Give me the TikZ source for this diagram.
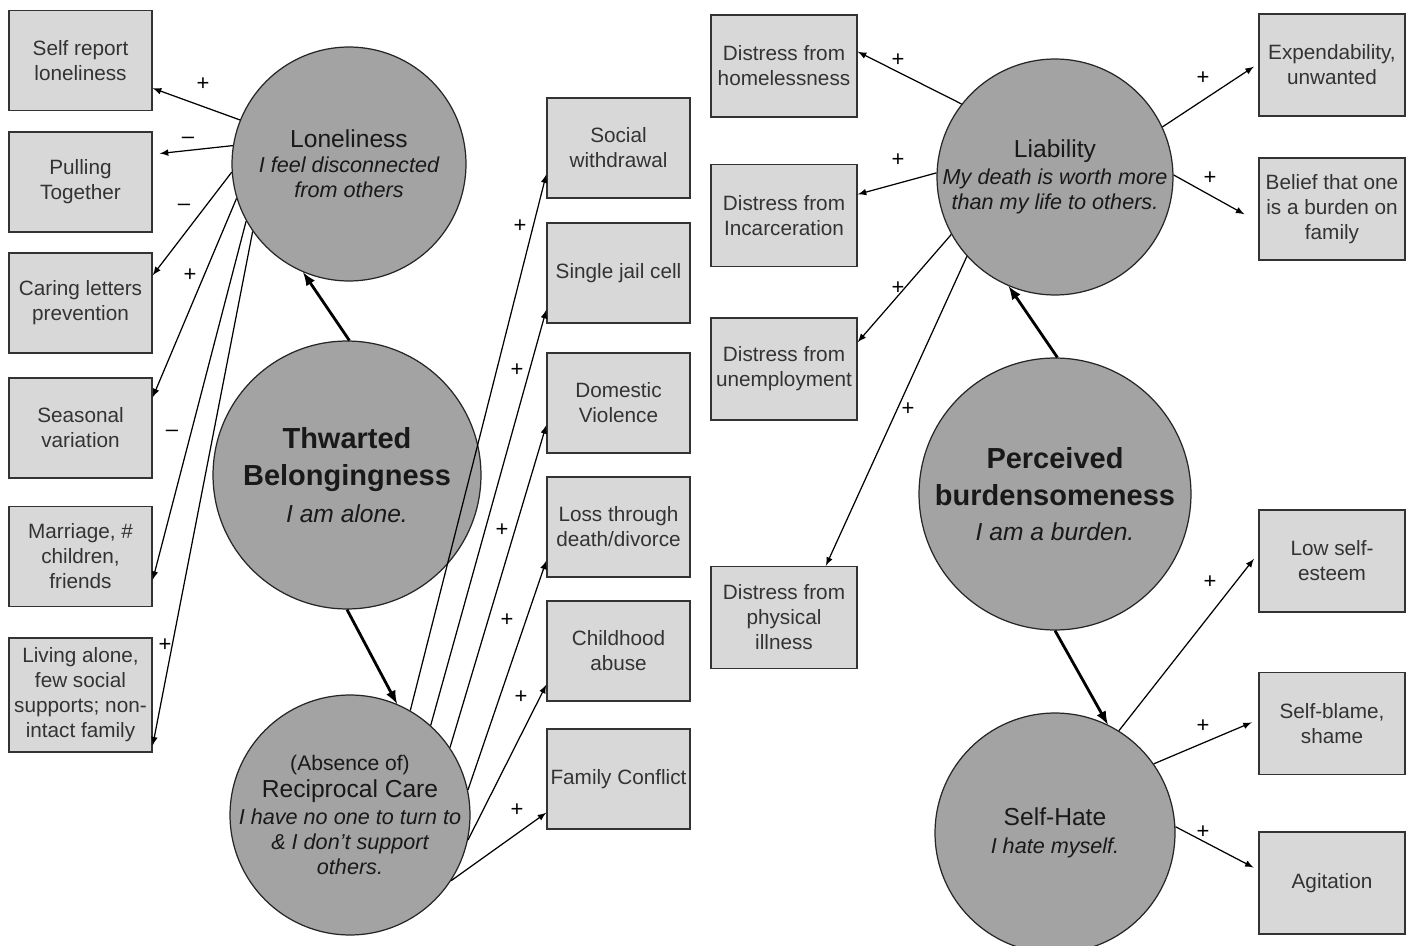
\documentclass[tikz,border=0pt]{standalone}
\usepackage{fontspec}
\setmainfont{Liberation Sans}
\definecolor{circlegray}{RGB}{163,163,163}
\definecolor{boxgray}{RGB}{216,216,216}
\newcommand{\factorfont}{\fontsize{11.8}{14.2}\selectfont}
\newcommand{\headfont}{\fontsize{14}{14.7}\selectfont\upshape}
\newcommand{\notefont}{\fontsize{12.3}{14.2}\selectfont\itshape}
\newcommand{\bigheadfont}{\fontsize{16.5}{21}\selectfont\bfseries}
\newcommand{\bignotefont}{\fontsize{14}{18.7}\selectfont\mdseries\itshape}

\begin{document}
\begin{tikzpicture}[x=0.02cm,y=-0.02cm]
\tikzstyle{factor}=[rectangle, draw=black!80, fill=boxgray, line width=0.8pt, minimum width=2.86cm, minimum height=2cm, inner sep=0.5pt, align=center, font=\factorfont, text=black!80];
\tikzstyle{distress}=[factor, minimum width=2.92cm, minimum height=2.04cm];
\tikzstyle{construct}=[circle, draw=black!85, fill=circlegray, line width=0.7pt, inner sep=-8pt, align=center, text=black!90, font=\notefont];
\tikzstyle{link}=[-latex, line width=0.7pt];
\tikzstyle{mainlink}=[-latex, line width=1.6pt];
\tikzstyle{sign}=[font=\fontsize{12.5}{12.5}\selectfont, inner sep=0pt];
\path [fill=white] (0,0) rectangle (1414,946);
\useasboundingbox (0,0) rectangle (1414,946);
\coordinate (c_loneliness) at (349,164);
\coordinate (c_thwarted) at (347,475);
\coordinate (c_reciprocal) at (350,815);
\coordinate (c_liability) at (1055,177);
\coordinate (c_perceived) at (1055,494);
\coordinate (c_self_hate) at (1055,833);
\coordinate (c_self_report) at (80.5,60.5);
\coordinate (c_pulling) at (80.5,182);
\coordinate (c_caring) at (80.5,303);
\coordinate (c_seasonal) at (80.5,428);
\coordinate (c_marriage) at (80.5,556.5);
\coordinate (c_living_alone) at (80.5,695);
\coordinate (c_withdrawal) at (618.5,148);
\coordinate (c_jail_cell) at (618.5,273);
\coordinate (c_domestic) at (618.5,403);
\coordinate (c_loss) at (618.5,527);
\coordinate (c_childhood) at (618.5,651);
\coordinate (c_conflict) at (618.5,779);
\coordinate (c_homeless) at (784,66);
\coordinate (c_incarceration) at (784,215.5);
\coordinate (c_unemployment) at (784,369);
\coordinate (c_illness) at (784,617.5);
\coordinate (c_expendability) at (1332,65);
\coordinate (c_burden_family) at (1332,209);
\coordinate (c_low_esteem) at (1332,561);
\coordinate (c_self_blame) at (1332,723.5);
\coordinate (c_agitation) at (1332,883);
\node (loneliness) at (c_loneliness) [construct, minimum size=4.68cm] {{\headfont Loneliness}\\I feel disconnected\\from others};
\node (thwarted) at (c_thwarted) [construct, minimum size=5.36cm, font=\bigheadfont] {Thwarted\\Belongingness\\{\bignotefont I am alone.}};
\node (reciprocal) at (c_reciprocal) [construct, minimum size=4.8cm] {{\fontsize{12}{14.5}\selectfont\upshape (Absence of)}\\[1pt]{\headfont Reciprocal Care}\\[1pt]I have no one to turn to\\\& I don't support\\others.};
\node (liability) at (c_liability) [construct, minimum size=4.72cm] {{\headfont Liability}\\[1pt]My death is worth more\\than my life to others.};
\node (perceived) at (c_perceived) [construct, minimum size=5.44cm, font=\bigheadfont] {Perceived\\burdensomeness\\[-1pt]{\bignotefont I am a burden.}};
\node (self_hate) at (c_self_hate) [construct, minimum size=4.8cm] {{\headfont Self-Hate}\\[2pt]I hate myself.};
\node (self_report) at (c_self_report) [factor] {Self report\\loneliness};
\node (pulling) at (c_pulling) [factor] {Pulling\\Together};
\node (caring) at (c_caring) [factor] {Caring letters\\prevention};
\node (seasonal) at (c_seasonal) [factor] {Seasonal\\variation};
\node (marriage) at (c_marriage) [factor] {Marriage, \#\\children,\\friends};
\node (living_alone) at (c_living_alone) [factor, minimum height=2.28cm] {Living alone,\\few social\\supports; non-\\intact family};
\node (withdrawal) at (c_withdrawal) [factor] {Social\\withdrawal};
\node (jail_cell) at (c_jail_cell) [factor] {Single jail cell};
\node (domestic) at (c_domestic) [factor] {Domestic\\Violence};
\node (loss) at (c_loss) [factor] {Loss through\\death/divorce};
\node (childhood) at (c_childhood) [factor] {Childhood\\abuse};
\node (conflict) at (c_conflict) [factor] {Family Conflict};
\node (homeless) at (c_homeless) [distress] {Distress from\\homelessness};
\node (incarceration) at (c_incarceration) [distress] {Distress from\\Incarceration};
\node (unemployment) at (c_unemployment) [distress] {Distress from\\unemployment};
\node (illness) at (c_illness) [distress] {Distress from\\physical\\illness};
\node (expendability) at (c_expendability) [distress] {Expendability,\\unwanted};
\node (burden_family) at (c_burden_family) [distress] {Belief that one\\is a burden on\\family};
\node (low_esteem) at (c_low_esteem) [distress] {Low self-\\esteem};
\node (self_blame) at (c_self_blame) [distress] {Self-blame,\\shame};
\node (agitation) at (c_agitation) [distress] {Agitation};
\path (thwarted.89) -- (loneliness.247) [draw, mainlink];
\path (thwarted.270) -- (reciprocal.67) [draw, mainlink];
\path (perceived.89) -- (liability.247) [draw, mainlink];
\path (perceived.270) -- (self_hate.64) [draw, mainlink];
\path (loneliness.158) -- (self_report.-21) [draw, link];
\path (loneliness.171) -- (pulling.21) [draw, link, shorten >=4pt];
\path (loneliness.184) -- (caring.21) [draw, link];
\path (loneliness.197) -- (seasonal.23) [draw, link];
\path (loneliness.209) -- (marriage.-18) [draw, link];
\path (loneliness.215) -- (living_alone.-35) [draw, link];
\path (reciprocal.60) -- (withdrawal.200) [draw, link];
\path (reciprocal.48) -- (jail_cell.207) [draw, link];
\path (reciprocal.34) -- (domestic.197) [draw, link];
\path (reciprocal.12) -- (loss.205) [draw, link];
\path (reciprocal.-12) -- (childhood.205) [draw, link];
\path (reciprocal.-33) -- (conflict.205) [draw, link];
\path (liability.142) -- (homeless.11) [draw, link];
\path (liability.178) -- (incarceration.16) [draw, link];
\path (liability.209) -- (unemployment.20) [draw, link];
\path (liability.222) -- (illness.51) [draw, link];
\path (liability.25) -- (expendability.179) [draw, link, shorten >=3pt];
\path (liability.1) -- (burden_family.190) [draw, link, shorten >=9pt];
\path (self_hate.58) -- (low_esteem.174) [draw, link, shorten >=4pt];
\path (self_hate.35) -- (self_blame.177) [draw, link, shorten >=4pt];
\path (self_hate.3) -- (agitation.170) [draw, link, shorten >=3pt];
\node (sign_self_report) at (203,84) [sign] {+};
\node (sign_pulling) at (188,140) [sign] {\textendash};
\node (sign_caring) at (184,207) [sign] {\textendash};
\node (sign_seasonal) at (190,275) [sign] {+};
\node (sign_marriage) at (172,433) [sign] {\textendash};
\node (sign_living_alone) at (165,645) [sign] {+};
\node (sign_withdrawal) at (520,226) [sign] {+};
\node (sign_jail_cell) at (517,370) [sign] {+};
\node (sign_domestic) at (502,530) [sign] {+};
\node (sign_loss) at (507,620) [sign] {+};
\node (sign_childhood) at (521,697) [sign] {+};
\node (sign_conflict) at (517,810) [sign] {+};
\node (sign_homeless) at (898,60) [sign] {+};
\node (sign_incarceration) at (898,160) [sign] {+};
\node (sign_unemployment) at (898,288) [sign] {+};
\node (sign_illness) at (908,409) [sign] {+};
\node (sign_expendability) at (1203,78) [sign] {+};
\node (sign_burden_family) at (1210,178) [sign] {+};
\node (sign_low_esteem) at (1210,582) [sign] {+};
\node (sign_self_blame) at (1203,726) [sign] {+};
\node (sign_agitation) at (1203,832) [sign] {+};
\end{tikzpicture}
\end{document}
